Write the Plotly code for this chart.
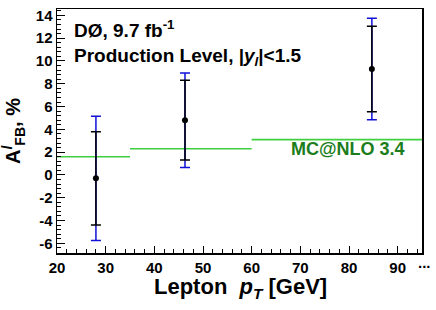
import plotly.graph_objects as go

# ---- data ----
pt_centers = [28.0, 46.3, 84.7]
afb_values = [-0.3, 4.8, 9.3]
err_stat = [4.1, 3.5, 3.75]
err_total = [5.45, 4.15, 4.45]

mc_bin_edges = [20, 35, 60, 95]
mc_afb = [1.6, 2.3, 3.1]

x_tick_vals = [20, 30, 40, 50, 60, 70, 80, 90]
y_tick_vals = [-6, -4, -2, 0, 2, 4, 6, 8, 10, 12, 14]

FONT = "Liberation Sans, Arial, Helvetica, sans-serif"

W, H = 436, 310
PLOT_LEFT, PLOT_RIGHT, PLOT_TOP, PLOT_BOTTOM = 57, 422, 9, 253
L, T = PLOT_LEFT, PLOT_TOP
R, B = W - PLOT_RIGHT, H - PLOT_BOTTOM
PW, PH = PLOT_RIGHT - PLOT_LEFT, PLOT_BOTTOM - PLOT_TOP


def px_x(sx):
    return (sx - PLOT_LEFT) / PW


def px_y(sy):
    return (PLOT_BOTTOM - sy) / PH


# MC step segments built from the bin arrays
mc_x, mc_y = [], []
for i, v in enumerate(mc_afb):
    mc_x += [mc_bin_edges[i], mc_bin_edges[i + 1], None]
    mc_y += [v, v, None]

fig = go.Figure()

fig.add_trace(go.Scatter(
    x=mc_x, y=mc_y, mode="lines",
    line=dict(color="#3fcf3f", width=1.6),
    hoverinfo="skip", showlegend=False,
))

# total uncertainty (blue, outer)
fig.add_trace(go.Scatter(
    x=pt_centers, y=afb_values, mode="markers",
    marker=dict(size=1, color="rgba(0,0,0,0)"),
    error_y=dict(type="data", array=err_total, color="#1010d8",
                 thickness=1.5, width=5),
    showlegend=False,
))

# statistical uncertainty (black, inner) + points
fig.add_trace(go.Scatter(
    x=pt_centers, y=afb_values, mode="markers",
    marker=dict(size=6, color="black"),
    error_y=dict(type="data", array=err_stat, color="black",
                 thickness=1.5, width=5),
    showlegend=False,
))

tickfont = dict(family=FONT, size=15, color="black", weight="bold")

fig.update_xaxes(
    range=[20, 95], tickvals=x_tick_vals, ticktext=[str(v) for v in x_tick_vals],
    ticks="inside", ticklen=7, tickwidth=1, tickcolor="black",
    minor=dict(dtick=2, tick0=20, ticks="inside", ticklen=4, tickcolor="black", tickwidth=1),
    showline=True, linecolor="black", linewidth=1.5, mirror=True,
    showgrid=False, zeroline=False, tickfont=tickfont,
    ticklabeloverflow="allow",
)
fig.update_yaxes(
    range=[-6.85, 14.56], tickvals=y_tick_vals, ticktext=[str(v) for v in y_tick_vals],
    ticks="inside", ticklen=8, tickwidth=1, tickcolor="black",
    minor=dict(dtick=0.4, tick0=0, ticks="inside", ticklen=4, tickcolor="black", tickwidth=1),
    showline=True, linecolor="black", linewidth=1.5, mirror=True,
    showgrid=False, zeroline=False, tickfont=tickfont,
    ticklabeloverflow="allow",
)

annots = [
    dict(text="DØ, 9.7 fb<sup>-1</sup>", x=px_x(72), y=px_y(29),
         xanchor="left", yanchor="middle",
         font=dict(family=FONT, size=19, color="black", weight="bold")),
    dict(text="Production Level, |<i>y</i><sub><i>l</i></sub>|&lt;1.5", x=px_x(72), y=px_y(57),
         xanchor="left", yanchor="middle",
         font=dict(family=FONT, size=19, color="black", weight="bold")),
    dict(text="MC@NLO 3.4", x=px_x(348), y=px_y(149),
         xanchor="center", yanchor="middle",
         font=dict(family=FONT, size=18, color="#1b7d1b", weight="bold")),
    dict(text="...", x=px_x(424), y=px_y(262),
         xanchor="center", yanchor="middle",
         font=dict(family=FONT, size=15, color="black", weight="bold")),
    dict(text="A<sup><i>l</i></sup><sub>FB</sub>, %", x=px_x(13), y=0.5,
         xanchor="center", yanchor="middle", textangle=-90,
         font=dict(family=FONT, size=20, color="black", weight="bold")),
    dict(text="Lepton  <i>p</i><sub><i>T</i></sub> [GeV]", x=px_x(240), y=px_y(288),
         xanchor="center", yanchor="middle",
         font=dict(family=FONT, size=22, color="black", weight="bold")),
]
for a in annots:
    a.update(xref="paper", yref="paper", showarrow=False)

fig.update_layout(
    width=W, height=H,
    margin=dict(l=L, r=R, t=T, b=B, autoexpand=False),
    paper_bgcolor="white", plot_bgcolor="white",
    annotations=annots, showlegend=False,
)

fig.write_html("out.html",
               config={"displayModeBar": False, "staticPlot": True},
               post_script="document.body.style.margin='0';document.body.style.overflow='hidden';")
